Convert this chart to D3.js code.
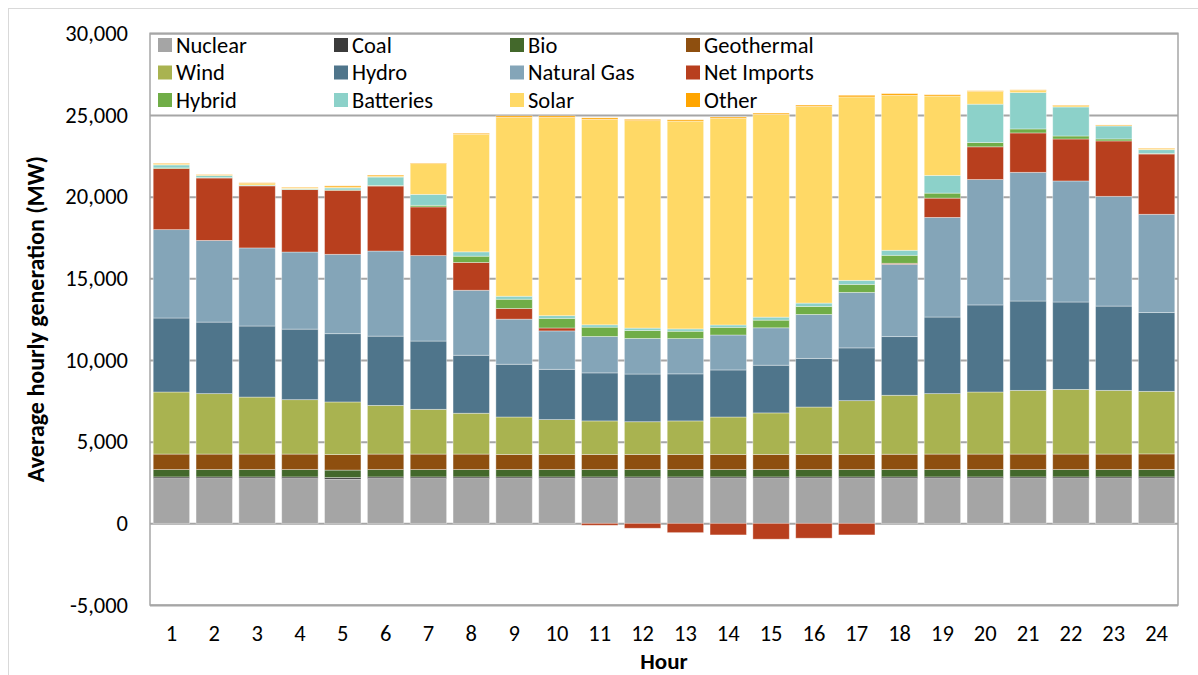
<!DOCTYPE html>
<html>
<head>
<meta charset="utf-8">
<script src="https://cdn.jsdelivr.net/npm/d3@7/dist/d3.min.js"></script>
<style>
  body { margin: 0; background: #fff; }
  svg text { font-family: Carlito, Lato, "Liberation Sans", sans-serif; fill: #000; }
</style>
</head>
<body>
<svg id="chart" width="1198" height="675"></svg>
<script>
var hours = [1, 2, 3, 4, 5, 6, 7, 8, 9, 10, 11, 12, 13, 14, 15, 16, 17, 18, 19, 20, 21, 22, 23, 24];

var seriesNames = ["Nuclear", "Coal", "Bio", "Geothermal", "Wind", "Hydro", "Natural Gas",
                   "Net Imports", "Hybrid", "Batteries", "Solar", "Other"];
var seriesColors = ["#a5a5a5", "#3b3b3b", "#43682b", "#8e4f0f", "#a9b350", "#4f758b", "#84a5b8",
                    "#b83f1e", "#70ad47", "#8cd1c9", "#ffd966", "#ffa500"];

// average MW per hour
var nuclear    = [2740, 2740, 2740, 2740, 2700, 2740, 2740, 2740, 2740, 2740, 2740, 2740, 2740, 2740, 2740, 2740, 2740, 2740, 2740, 2740, 2740, 2740, 2740, 2740];
var coal       = [100, 100, 100, 100, 100, 100, 100, 100, 100, 100, 100, 100, 100, 100, 100, 100, 100, 100, 100, 100, 100, 100, 100, 100];
var bio        = [450, 450, 450, 450, 460, 450, 450, 450, 450, 450, 450, 450, 450, 450, 450, 450, 450, 450, 450, 450, 450, 450, 450, 450];
var geothermal = [950, 950, 950, 950, 950, 950, 950, 950, 930, 930, 930, 930, 930, 930, 930, 930, 930, 940, 950, 950, 950, 950, 950, 960];
var wind       = [3800, 3700, 3490, 3330, 3220, 2980, 2740, 2500, 2290, 2130, 2050, 2000, 2050, 2290, 2540, 2900, 3290, 3610, 3700, 3800, 3900, 3960, 3900, 3830];
var hydro      = [4530, 4380, 4350, 4320, 4180, 4240, 4180, 3550, 3230, 3080, 2940, 2920, 2880, 2880, 2920, 2980, 3230, 3590, 4690, 5330, 5470, 5350, 5160, 4820];
var naturalGas = [5410, 5000, 4780, 4720, 4860, 5210, 5230, 3980, 2760, 2350, 2230, 2180, 2160, 2140, 2290, 2690, 3400, 4430, 6100, 7680, 7880, 7410, 6720, 6020];
var netImports = [3740, 3820, 3800, 3820, 3920, 3980, 2980, 1700, 650, 180, -120, -300, -570, -710, -970, -910, -710, 60, 1180, 2000, 2410, 2570, 3390, 3690];
var hybrid     = [40, 30, 20, 20, 20, 40, 100, 385, 570, 590, 570, 490, 450, 470, 470, 490, 490, 490, 306, 265, 245, 183, 123, 40];
var batteries  = [180, 120, 30, 40, 120, 510, 670, 265, 184, 163, 143, 143, 143, 143, 183, 204, 245, 306, 1082, 2347, 2224, 1776, 796, 225];
var solar      = [60, 20, 90, 50, 60, 60, 1880, 7200, 10950, 12140, 12580, 12700, 12720, 12650, 12410, 12040, 11230, 9490, 4860, 780, 120, 80, 10, 60];
var other      = [40, 40, 50, 40, 70, 60, 40, 60, 90, 90, 90, 80, 80, 80, 80, 80, 100, 100, 80, 40, 50, 40, 50, 40];

var yTicks = [-5000, 0, 5000, 10000, 15000, 20000, 25000, 30000];

(function(d3) {

  var svg = d3.select("#chart");
  var left = 150, right = 1178, top = 33.3, bottom = 605;

  var columns = [nuclear, coal, bio, geothermal, wind, hydro, naturalGas,
                 netImports, hybrid, batteries, solar, other];

  var rows = hours.map(function(h, i) {
    var row = { hour: h };
    seriesNames.forEach(function(name, j) { row[name] = columns[j][i]; });
    return row;
  });

  var x = d3.scaleBand()
      .domain(hours)
      .range([left, right])
      .paddingInner(0.15)
      .paddingOuter(0.075);

  var y = d3.scaleLinear()
      .domain([-5000, 30000])
      .range([bottom, top]);

  var color = d3.scaleOrdinal(seriesNames, seriesColors);

  // plain hyphen for negatives, like the original
  var format = d3.formatLocale({
    decimal: ".", thousands: ",", grouping: [3], currency: ["$", ""], minus: "-"
  }).format(",");

  var stack = d3.stack()
      .keys(seriesNames)
      .offset(d3.stackOffsetDiverging);

  // outer chart frame
  svg.append("rect")
    .attr("x", 8.5).attr("y", 8.5)
    .attr("width", 1300).attr("height", 800)
    .attr("fill", "none")
    .attr("stroke", "#d9d9d9");

  // gridlines
  var grid = svg.append("g")
    .attr("transform", "translate(" + left + ",0)")
    .call(d3.axisLeft(y).tickValues(yTicks).tickSize(-(right - left)).tickFormat(""));
  grid.select(".domain").remove();
  grid.selectAll("line")
    .attr("stroke", "#a6a6a6")
    .attr("stroke-width", 2);

  // plot border
  svg.append("rect")
    .attr("x", left).attr("y", top)
    .attr("width", right - left).attr("height", bottom - top)
    .attr("fill", "none")
    .attr("stroke", "#a6a6a6")
    .attr("stroke-width", 1.5);

  var layer = svg.append("g").selectAll("g")
    .data(stack(rows))
    .enter().append("g")
      .attr("fill", function(d) { return color(d.key); });

  layer.selectAll("rect")
    .data(function(d) { return d; })
    .enter().append("rect")
      .attr("x", function(d) { return x(d.data.hour); })
      .attr("width", x.bandwidth())
      .attr("y", function(d) { return y(Math.max(d[0], d[1])); })
      .attr("height", function(d) { return Math.abs(y(d[0]) - y(d[1])); })
      .attr("stroke", "#ffffff")
      .attr("stroke-opacity", 0.45)
      .attr("stroke-width", 0.8);

  // y axis labels
  var yAxis = svg.append("g")
    .attr("transform", "translate(" + left + ",0)")
    .call(d3.axisLeft(y).tickValues(yTicks).tickSize(0).tickPadding(22)
      .tickFormat(format));
  yAxis.select(".domain").remove();
  yAxis.selectAll("text")
    .style("font-size", "22.5px");

  // x axis labels
  var xAxis = svg.append("g")
    .attr("transform", "translate(0," + bottom + ")")
    .call(d3.axisBottom(x).tickSize(0).tickPadding(20));
  xAxis.select(".domain").remove();
  xAxis.selectAll("text")
    .style("font-size", "22.5px");

  svg.append("text")
    .attr("x", (left + right) / 2)
    .attr("y", 669)
    .attr("text-anchor", "middle")
    .style("font-size", "23px")
    .style("font-weight", "bold")
    .text("Hour");

  svg.append("text")
    .attr("transform", "translate(36," + (top + bottom) / 2 + ") rotate(-90)")
    .attr("text-anchor", "middle")
    .attr("dy", "0.35em")
    .style("font-size", "24px")
    .style("font-weight", "bold")
    .text("Average hourly generation (MW)");

  // legend, 4 columns x 3 rows
  var legend = svg.append("g").selectAll("g")
    .data(seriesNames)
    .enter().append("g")
      .attr("transform", function(d, i) {
        return "translate(" + (158 + (i % 4) * 176) + "," + (45 + Math.floor(i / 4) * 27.5) + ")";
      });
  legend.append("rect")
    .attr("x", 0).attr("y", -7)
    .attr("width", 14).attr("height", 14)
    .attr("fill", function(d) { return color(d); });
  legend.append("text")
    .attr("x", 18)
    .attr("dy", "0.35em")
    .style("font-size", "22.5px")
    .text(function(d) { return d; });

})(window.d3);
</script>
</body>
</html>
